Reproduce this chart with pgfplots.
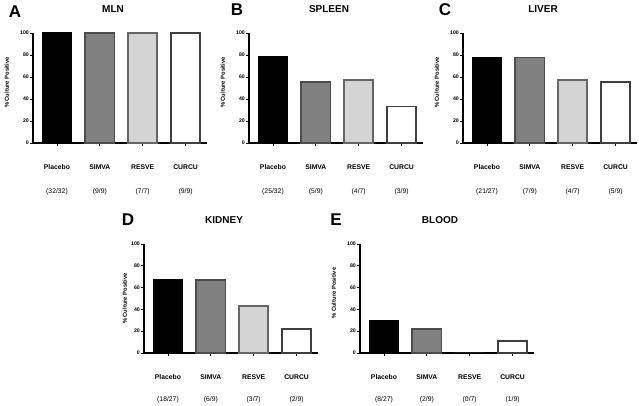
\documentclass[border=0pt]{standalone}
\usepackage{fontspec}
\setmainfont{Liberation Sans}
\usepackage{pgfplots}
\pgfplotsset{compat=1.18}

\definecolor{simva}{RGB}{128,128,128}
\definecolor{resve}{RGB}{212,212,212}

\pgfplotsset{
  panel/.style={
    scale only axis, width=174pt, height=110pt,
    anchor=south west,
    xmin=-0.56, xmax=3.5, ymin=0, ymax=100,
    axis x line=bottom, axis y line=left,
    axis line style={-, line width=1.1pt},
    ytick={0,20,...,100}, xtick={0,1,2,3},
    tick align=outside, major tick length=3pt,
    tick style={black, line width=0.8pt},
    /pgf/number format/assume math mode=true,
    yticklabel style={font=\fontsize{5.2}{6}\selectfont\bfseries, inner sep=1pt},
    xticklabel style={align=center, font=\fontsize{6.8}{8}\selectfont, yshift=-15pt},
    ylabel={\% Culture Positive},
    ylabel style={font=\fontsize{5.8}{7}\selectfont\bfseries, at={(axis description cs:-0.15,0.55)}, anchor=center},
    title style={font=\fontsize{10}{12}\selectfont\bfseries, at={(axis description cs:0.46,1)}, anchor=center, yshift=18pt},
    ybar, bar shift=0pt, bar width=0.68,
    clip=false,
  },
  pbo/.style={fill=black, draw=black, line width=1.6pt},
  sim/.style={fill=simva, draw=black!70, line width=1.6pt},
  res/.style={fill=resve, draw=black!60, line width=1.6pt},
  cur/.style={fill=white, draw=black!75, line width=1.6pt},
}

\begin{document}
\begin{tikzpicture}[x=1pt,y=1pt]
\useasboundingbox (0,0) rectangle (639,406);

% A
\begin{axis}[panel, at={(33pt,263pt)}, title={MLN},
  xticklabels={{\textbf{Placebo}\\[16pt](32/32)},{\textbf{SIMVA}\\[16pt](9/9)},{\textbf{RESVE}\\[16pt](7/7)},{\textbf{CURCU}\\[16pt](9/9)}}]
\addplot[pbo] coordinates {(0,100)};
\addplot[sim] coordinates {(1,100)};
\addplot[res] coordinates {(2,100)};
\addplot[cur] coordinates {(3,100)};
\end{axis}

% B
\begin{axis}[panel, at={(249pt,263pt)}, title={SPLEEN},
  xticklabels={{\textbf{Placebo}\\[16pt](25/32)},{\textbf{SIMVA}\\[16pt](5/9)},{\textbf{RESVE}\\[16pt](4/7)},{\textbf{CURCU}\\[16pt](3/9)}}]
\addplot[pbo] coordinates {(0,78.1)};
\addplot[sim] coordinates {(1,55.6)};
\addplot[res] coordinates {(2,57.1)};
\addplot[cur] coordinates {(3,33.3)};
\end{axis}

% C
\begin{axis}[panel, at={(463pt,263pt)}, title={LIVER},
  xticklabels={{\textbf{Placebo}\\[16pt](21/27)},{\textbf{SIMVA}\\[16pt](7/9)},{\textbf{RESVE}\\[16pt](4/7)},{\textbf{CURCU}\\[16pt](5/9)}}]
\addplot[pbo] coordinates {(0,77.8)};
\addplot[sim] coordinates {(1,77.8)};
\addplot[res] coordinates {(2,57.1)};
\addplot[cur] coordinates {(3,55.6)};
\end{axis}

% D
\begin{axis}[panel, at={(144pt,53pt)}, height=109pt, title={KIDNEY},
  ylabel style={at={(axis description cs:-0.11,0.5)}},
  xticklabels={{\textbf{Placebo}\\[14pt](18/27)},{\textbf{SIMVA}\\[14pt](6/9)},{\textbf{RESVE}\\[14pt](3/7)},{\textbf{CURCU}\\[14pt](2/9)}}]
\addplot[pbo] coordinates {(0,66.7)};
\addplot[sim] coordinates {(1,66.7)};
\addplot[res] coordinates {(2,42.9)};
\addplot[cur] coordinates {(3,22.2)};
\end{axis}

% E
\begin{axis}[panel, at={(360pt,53pt)}, height=109pt, title={BLOOD},
  xticklabels={{\textbf{Placebo}\\[14pt](8/27)},{\textbf{SIMVA}\\[14pt](2/9)},{\textbf{RESVE}\\[14pt](0/7)},{\textbf{CURCU}\\[14pt](1/9)}}]
\addplot[pbo] coordinates {(0,29.6)};
\addplot[sim] coordinates {(1,22.2)};
\addplot[res, draw=none] coordinates {(2,0)};
\addplot[cur] coordinates {(3,11.1)};
\end{axis}

% panel letters
\begin{scope}[every node/.style={font=\fontsize{17}{19}\selectfont\bfseries}]
\node at (15,394) {A};
\node at (237,396) {B};
\node at (445,396) {C};
\node at (128,186) {D};
\node at (336,186) {E};
\end{scope}
\end{tikzpicture}
\end{document}
